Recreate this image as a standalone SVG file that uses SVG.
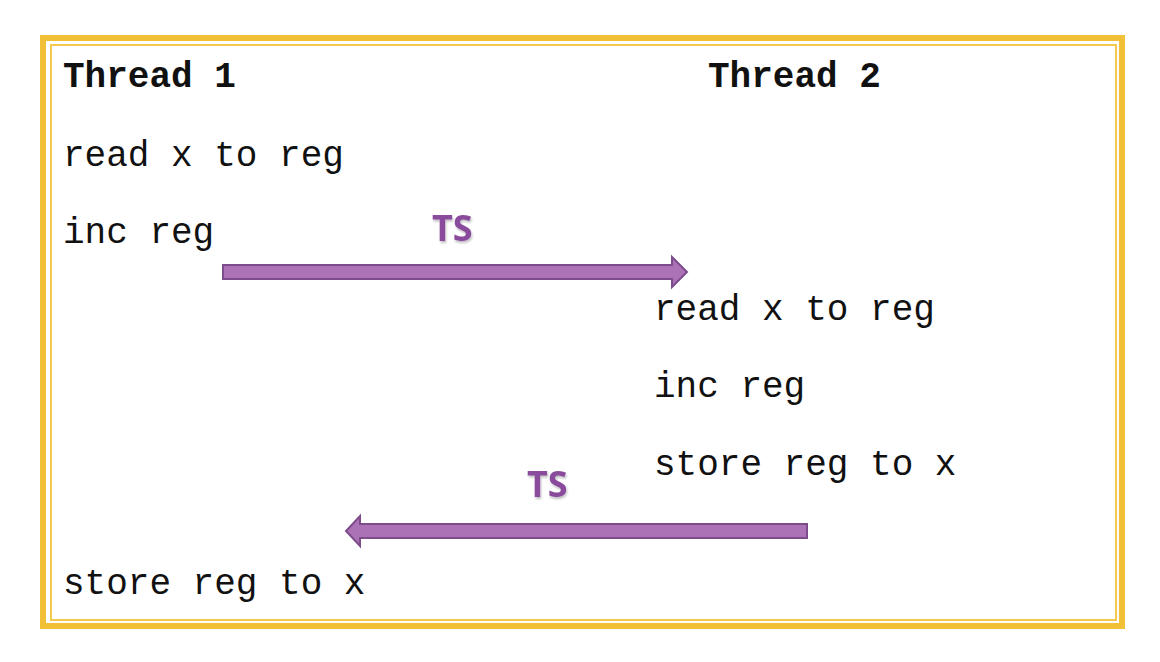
<svg xmlns="http://www.w3.org/2000/svg" width="1160" height="662" viewBox="0 0 1160 662">
<style>
.code{font-family:"Liberation Mono","Courier New",monospace;font-size:36px;fill:#111;}
.title{font-weight:bold;}
.ts{font-family:"Open Sans","Liberation Sans",sans-serif;font-weight:bold;font-size:36px;fill:#8a4b9c;}
.arrow{fill:#ac72b6;stroke:#7d4d8b;stroke-width:2;stroke-linejoin:miter;}
</style>
<defs>
<filter id="sh" x="-20%" y="-20%" width="140%" height="140%">
<feDropShadow dx="1" dy="2" stdDeviation="1.2" flood-color="#000" flood-opacity="0.25"/>
</filter>
</defs>
<rect width="1160" height="662" fill="#fff"/>
<g id="frame">
<rect x="43" y="38" width="1079" height="588" fill="none" stroke="#f2c037" stroke-width="6"/>
<rect x="51" y="45" width="1065" height="575" fill="none" stroke="#f4c94e" stroke-width="2"/>
</g>
<g id="thread1">
<text class="code title" x="63" y="87">Thread 1</text>
<text class="code" x="63" y="166">read x to reg</text>
<text class="code" x="63" y="243">inc reg</text>
<text class="code" x="63" y="594">store reg to x</text>
</g>
<g id="thread2">
<text class="code title" x="708" y="87">Thread 2</text>
<text class="code" x="654" y="320">read x to reg</text>
<text class="code" x="654" y="397">inc reg</text>
<text class="code" x="654" y="475">store reg to x</text>
</g>
<g id="connectors">
<path class="arrow" d="M223,265 L672,265 L672,257 L687,272 L672,287 L672,279 L223,279 Z"/>
<path class="arrow" d="M807,524 L360,524 L360,516 L346,531 L360,546 L360,538 L807,538 Z"/>
<text class="ts" x="432" y="241" filter="url(#sh)">TS</text>
<text class="ts" x="527" y="497" filter="url(#sh)">TS</text>
</g>
</svg>
